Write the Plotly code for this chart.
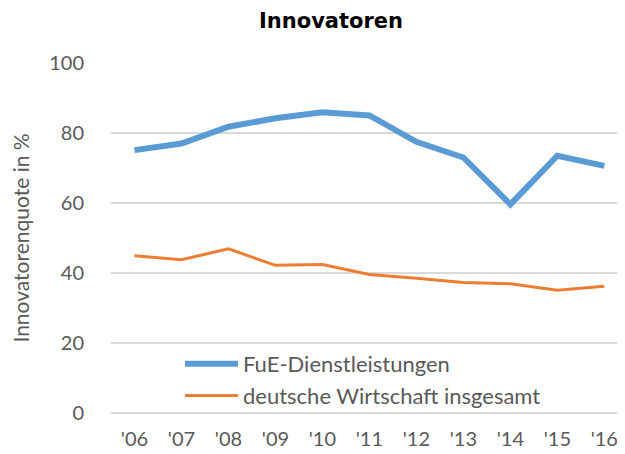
import plotly.graph_objects as go

years = ["'06", "'07", "'08", "'09", "'10", "'11", "'12", "'13", "'14", "'15", "'16"]
fue = [75.1, 77.0, 81.8, 84.2, 85.9, 85.0, 77.5, 73.0, 59.6, 73.5, 70.6]
gesamt = [44.9, 43.8, 46.9, 42.2, 42.4, 39.6, 38.5, 37.3, 36.9, 35.1, 36.2]
y_ticks = [0, 20, 40, 60, 80, 100]

FONT = "Lato, 'Open Sans', sans-serif"
TXT = "#595959"

# page body has an 8px default margin, so figure is 617x446 placed at (8, 8)
W, H = 617, 446

fig = go.Figure()
fig.add_trace(go.Scatter(x=years, y=fue, mode="lines", name="FuE-Dienstleistungen",
                         line=dict(color="#5B9BD5", width=6)))
fig.add_trace(go.Scatter(x=years, y=gesamt, mode="lines", name="deutsche Wirtschaft insgesamt",
                         line=dict(color="#ED7D31", width=3)))

fig.update_layout(
    width=W, height=H,
    margin=dict(l=103, r=0, t=55, b=41, autoexpand=False),
    paper_bgcolor="white", plot_bgcolor="white",
    title=dict(text="<b>Innovatoren</b>", x=323 / W, xanchor="center", y=1 - 13 / H, yanchor="middle",
               font=dict(family="DejaVu Sans", size=21, color="#000000")),
    font=dict(family=FONT, color=TXT),
    showlegend=True,
    legend=dict(x=(180 - 111) / 514, y=(413 - 343) / 350, xanchor="left", yanchor="top",
                bgcolor="rgba(0,0,0,0)", font=dict(family=FONT, size=22, color=TXT),
                tracegroupgap=0, itemwidth=53),
)
fig.update_xaxes(type="category", range=[-0.5, 10.44], showgrid=False, zeroline=False,
                 showline=False, ticks="", tickfont=dict(family=FONT, size=20, color=TXT),
                 ticklabelstandoff=12, automargin=False)
fig.update_yaxes(range=[0, 100], tickvals=y_ticks, showgrid=True, gridcolor="#D9D9D9",
                 gridwidth=1.5, zeroline=True, zerolinecolor="#D9D9D9", zerolinewidth=1.5,
                 showline=False, ticks="", automargin=False,
                 tickfont=dict(family=FONT, size=20, color=TXT), ticklabelstandoff=26,
                 title=dict(text="Innovatorenquote in %", font=dict(family=FONT, size=21, color=TXT),
                            standoff=14))

fig.write_html("out.html")
